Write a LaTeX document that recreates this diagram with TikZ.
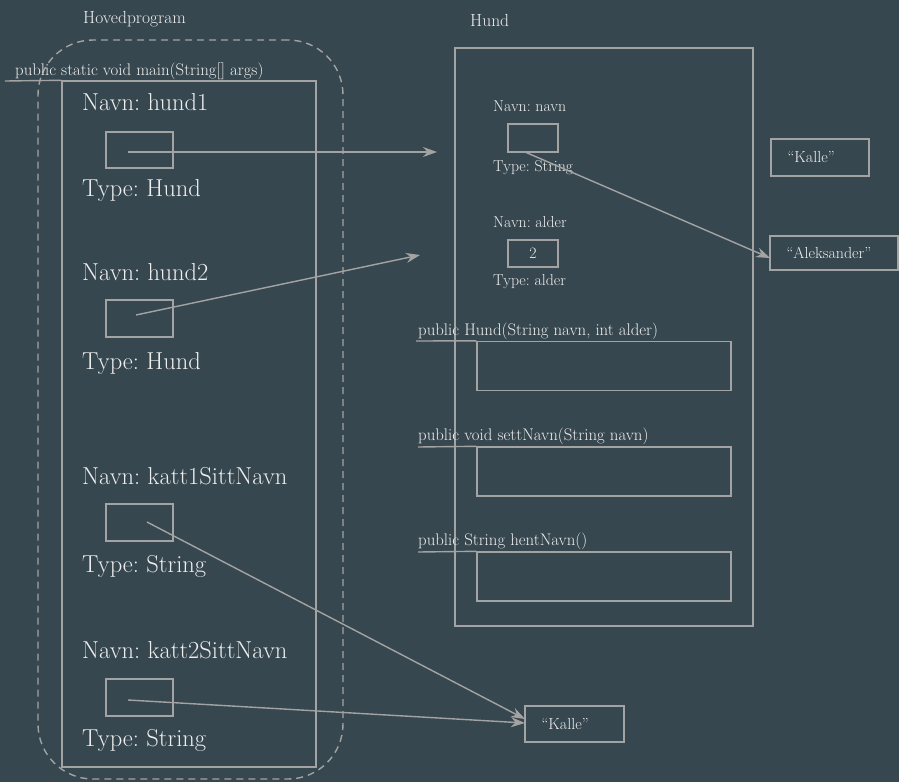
\documentclass[tikz,border=0pt]{standalone}
\usetikzlibrary{arrows.meta}
\definecolor{bg}{HTML}{37474F}
\definecolor{ln}{HTML}{A3A3A3}
\definecolor{tx}{HTML}{EEEEEE}
\begin{document}
\frenchspacing
\begin{tikzpicture}[x=1pt,y=-1pt,
  box/.style={draw=ln, line width=1.4pt, inner sep=0, minimum width=#1},
  small/.style={text=tx, font=\fontsize{16.8}{19}\selectfont, inner sep=0, anchor=base west},
  str/.style={text=tx, font=\fontsize{16}{19}\selectfont, inner sep=0, anchor=west},
  tiny/.style={text=tx, font=\fontsize{15.8}{18}\selectfont, inner sep=0, anchor=base west},
  head/.style={text=tx, font=\fontsize{17.5}{20}\selectfont, inner sep=0, anchor=base west},
  big/.style={text=tx, font=\fontsize{24.5}{28}\selectfont, inner sep=0, anchor=base west},
  ln/.style={draw=ln, line width=1.4pt},
  arr/.style={draw=ln, line width=1.4pt, -{Stealth[length=14pt,width=10pt]}}]
\fill[bg] (0,0) rectangle (899,782);
\useasboundingbox (0,0) rectangle (899,782);

% Hovedprogram
\node[head] (hovedlbl) at (83,23) {Hovedprogram};
\node[draw=ln, line width=1.4pt, dash pattern=on 7pt off 5pt, rounded corners=55pt,
  minimum width=305pt, minimum height=739pt, inner sep=0] (hp) at (190.5,409.5) {};
\node[box=254pt, minimum height=686pt] (mainbox) at (189,424) {};
\node[small] (mainlbl) at (15,75) {public static void main(String[] args)};
\coordinate (mu) at (5,81);
\draw[ln] (mu) -- (mainbox.north west);

% variables
\node[big] (n1) at (82,110) {Navn: hund1};
\node[box=67pt, minimum height=36pt] (b1) at (139.5,150) {};
\node[big] (t1) at (82,196) {Type: Hund};

\node[big] (n2) at (82,280) {Navn: hund2};
\node[box=67pt, minimum height=37pt] (b2) at (139.5,318.5) {};
\node[big] (t2) at (82,369) {Type: Hund};

\node[big] (n3) at (82,484) {Navn: katt1SittNavn};
\node[box=67pt, minimum height=37pt] (b3) at (139.5,522.5) {};
\node[big] (t3) at (82,572) {Type: String};

\node[big] (n4) at (82,658) {Navn: katt2SittNavn};
\node[box=67pt, minimum height=37pt] (b4) at (139.5,697.5) {};
\node[big] (t4) at (82,746) {Type: String};

% Hund object
\node[head] (hundlbl) at (470,26) {Hund};
\node[box=298pt, minimum height=578pt] (hund) at (604,337) {};

\node[tiny] (nn) at (493,111) {Navn: navn};
\node[box=50pt, minimum height=28pt] (navnbox) at (533,138) {};
\node[tiny] (tn) at (493,171) {Type: String};

\node[tiny] (na) at (493,227) {Navn: alder};
\node[box=50pt, minimum height=27pt, text=tx, font=\fontsize{15.8}{18}\selectfont] (alderbox) at (533,253.5) {2};
\node[tiny] (ta) at (493,285) {Type: alder};

\node[small] (m1lbl) at (418,335) {public Hund(String navn, int alder)};
\node[box=254pt, minimum height=49pt] (m1) at (604,366) {};
\coordinate (u1) at (416,341);
\draw[ln] (u1) -- (m1.north west);

\node[small] (m2lbl) at (418,440) {public void settNavn(String navn)};
\node[box=254pt, minimum height=49pt] (m2) at (604,471.5) {};
\coordinate (u2) at (418,447);
\draw[ln] (u2) -- (m2.north west);

\node[small] (m3lbl) at (418,545) {public String hentNavn()};
\node[box=254pt, minimum height=49pt] (m3) at (604,576.5) {};
\coordinate (u3) at (418,552);
\draw[ln] (u3) -- (m3.north west);

% strings
\node[box=98pt, minimum height=37pt] (kalle1) at (820,157.5) {};
\node[str] (kalle1t) at ([xshift=17pt]kalle1.west) {``Kalle''};
\node[box=128pt, minimum height=34pt] (ale) at (834,253) {};
\node[str] (alet) at ([xshift=17pt]ale.west) {``Aleksander''};
\node[box=99pt, minimum height=36pt] (kalle2) at (574.5,724) {};
\node[str] (kalle2t) at ([xshift=17pt]kalle2.west) {``Kalle''};

% arrows
\coordinate (s1) at (128,152);
\coordinate (e1) at (437,152);
\coordinate (s2) at (136,315);
\coordinate (e2) at (420,255);
\coordinate (s3) at (147,522);
\coordinate (s4) at (128,700);
\coordinate (sn) at (525,152);
\coordinate (en) at (770,258);
\coordinate (e3) at (525,719);
\coordinate (e4) at (525,723);
\draw[arr] (s1) -- (e1);
\draw[arr] (s2) -- (e2);
\draw[arr] (sn) -- (en);
\draw[arr] (s3) -- (e3);
\draw[arr] (s4) -- (e4);
\end{tikzpicture}
\end{document}
